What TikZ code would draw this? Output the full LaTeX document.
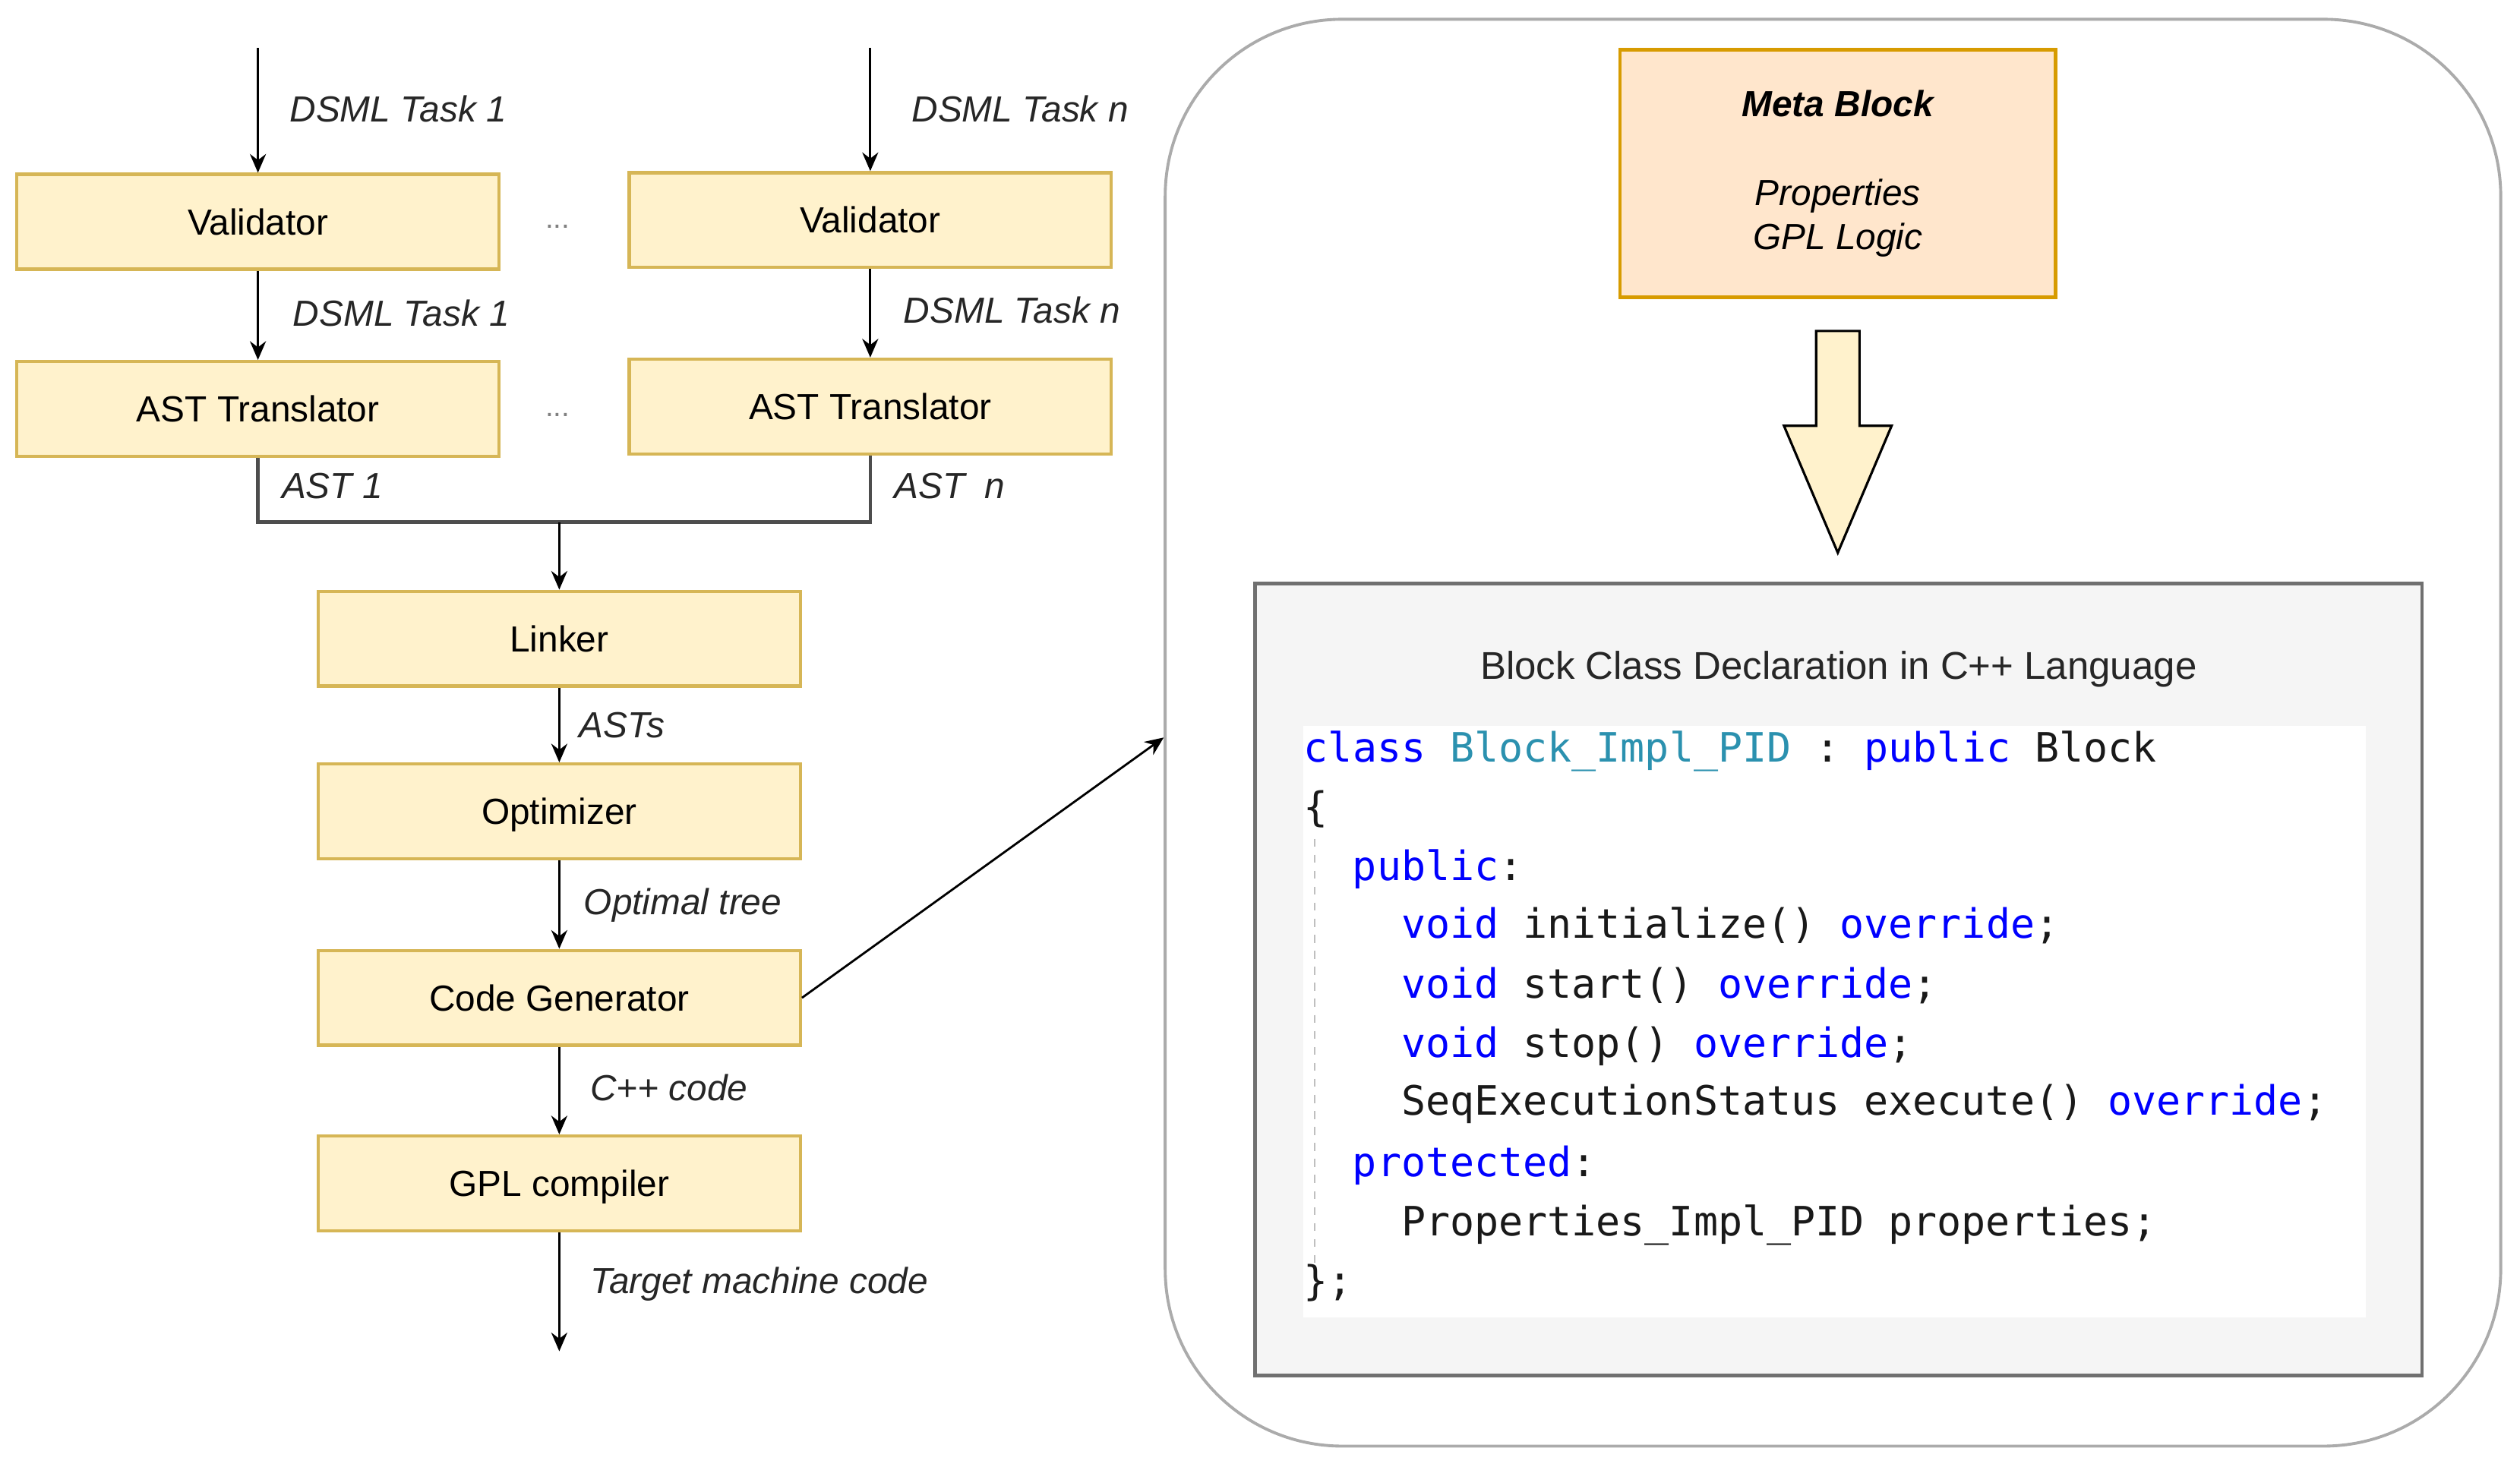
\documentclass[tikz,border=0pt]{standalone}
\usepackage{fontspec}
\setmainfont{Liberation Sans}
\setmonofont{DejaVu Sans Mono}
\usetikzlibrary{arrows.meta}
\definecolor{boxfill}{HTML}{FFF2CC}
\definecolor{boxline}{HTML}{D6B656}
\definecolor{metafill}{HTML}{FFE6CC}
\definecolor{metaline}{HTML}{D79B00}
\definecolor{panelline}{HTML}{ABABAB}
\definecolor{grayfill}{HTML}{F5F5F5}
\definecolor{grayline}{HTML}{707070}
\definecolor{kwblue}{HTML}{0000FF}
\definecolor{clsteal}{HTML}{2B91AF}
\definecolor{labelgray}{HTML}{262626}
\definecolor{joinline}{HTML}{4D4D4D}
\newcommand\kw[1]{\textcolor{kwblue}{#1}}
\newcommand\cls[1]{\textcolor{clsteal}{#1}}
\begin{document}
\begin{tikzpicture}[x=0.2116mm,y=-0.2116mm,
  stagebox/.style={draw=boxline,fill=boxfill,line width=1.2pt,
    minimum width=300*0.2116mm,minimum height=59*0.2116mm,inner sep=0pt,
    font=\fontsize{13.6pt}{16pt}\selectfont,text height=9.7pt,text depth=0pt},
  elabel/.style={anchor=west,inner sep=0pt,text=labelgray,
    font=\fontsize{13.6pt}{16pt}\selectfont\itshape,text height=9.7pt,text depth=0pt},
  codeline/.style={anchor=west,inner sep=0pt,text=black!90,
    font=\fontsize{15.16pt}{18pt}\selectfont\ttfamily,text height=9.7pt,text depth=0pt},
  dots/.style={inner sep=0pt,text=black!50,font=\fontsize{11pt}{13pt}\selectfont},
  flow/.style={-{Stealth[length=7pt,width=6pt]},line width=0.9pt,draw=black},
]
\useasboundingbox (0,0) rectangle (1568,913);

% ---------- right panel ----------
\node[draw=panelline,line width=1.1pt,rounded corners=23.3mm,
  minimum width=831*0.2116mm,minimum height=888*0.2116mm,inner sep=0pt]
  (panel) at (1140.5,456) {};

\node[draw=metaline,fill=metafill,line width=1.2pt,
  minimum width=271*0.2116mm,minimum height=154*0.2116mm,inner sep=0pt,
  align=center,font=\fontsize{13.6pt}{16.6pt}\selectfont\itshape]
  (meta) at (1143.5,108) {\textbf{Meta Block}\\[16.6pt]Properties\\GPL Logic};

\draw[fill=boxfill,line width=0.9pt,draw=black]
  (1130,206) -- (1157,206) -- (1157,265) -- (1177,265) -- (1143.5,344)
  -- (1110,265) -- (1130,265) -- cycle;

\node[draw=grayline,fill=grayfill,line width=1.4pt,
  minimum width=726*0.2116mm,minimum height=493*0.2116mm,inner sep=0pt]
  (codepanel) at (1144,609.5) {};
\node[inner sep=0pt,text=labelgray,font=\fontsize{14.5pt}{17pt}\selectfont,
  text height=10.4pt,text depth=0pt] (title) at (1144,414)
  {Block Class Declaration in C++ Language};
\node[fill=white,minimum width=661*0.2116mm,minimum height=368*0.2116mm,inner sep=0pt]
  (codebox) at (1141.5,636) {};
\draw[black!25,line width=0.7pt,dash pattern=on 3pt off 3pt] (818,522) -- (818,786);

\node[codeline] (c1) at (811,466) {\kw{class} \cls{Block\_Impl\_PID} : \kw{public} Block};
\node[codeline] (c2) at (811,503) {\{};
\node[codeline] (c3) at (841.3,540) {\kw{public}:};
\node[codeline] (c4) at (871.6,576) {\kw{void} initialize() \kw{override};};
\node[codeline] (c5) at (871.6,613) {\kw{void} start() \kw{override};};
\node[codeline] (c6) at (871.6,650) {\kw{void} stop() \kw{override};};
\node[codeline] (c7) at (871.6,686) {SeqExecutionStatus execute() \kw{override};};
\node[codeline] (c8) at (841.3,724) {\kw{protected}:};
\node[codeline] (c9) at (871.6,761) {Properties\_Impl\_PID properties;};
\node[codeline] (c10) at (811,798) {\};};

% ---------- left pipeline ----------
\node[stagebox] (val1) at (160.5,138) {Validator};
\node[stagebox] (valn) at (541.5,137) {Validator};
\node[stagebox] (ast1) at (160.5,254.5) {AST Translator};
\node[stagebox] (astn) at (541.5,253) {AST Translator};
\node[stagebox] (linker) at (348,397.5) {Linker};
\node[stagebox] (opt) at (348,505) {Optimizer};
\node[stagebox] (codegen) at (348,621) {Code Generator};
\node[stagebox] (gpl) at (348,736.5) {GPL compiler};

\node[dots] (d1) at (347,141) {...};
\node[dots] (d2) at (347,258) {...};

\coordinate (in1) at (160.5,30);
\coordinate (inn) at (541.5,30);
\coordinate (join) at (348,325);
\coordinate (out) at (348,841);

\draw[flow] (in1) -- (val1.north);
\draw[flow] (inn) -- (valn.north);
\draw[flow] (val1) -- (ast1);
\draw[flow] (valn) -- (astn);
\draw[draw=joinline,line width=1.3pt] (ast1.south) |- (join) -| (astn.south);
\draw[flow] (join) -- (linker.north);
\draw[flow] (linker) -- (opt);
\draw[flow] (opt) -- (codegen);
\draw[flow] (codegen) -- (gpl);
\draw[flow] (gpl) -- (out);
\draw[-{Stealth[length=7pt,width=6pt]},line width=0.8pt] (codegen.east) -- (panel.west |- 0,459);

\node[elabel] (l1) at (180,68) {DSML Task 1};
\node[elabel] (l2) at (567,68) {DSML Task n};
\node[elabel] (l3) at (182,195) {DSML Task 1};
\node[elabel] (l4) at (562,193) {DSML Task n};
\node[elabel] (l5) at (175,302) {AST 1};
\node[elabel] (l6) at (556,302) {AST~~n};
\node[elabel] (l7) at (360,451) {ASTs};
\node[elabel] (l8) at (363,561) {Optimal tree};
\node[elabel] (l9) at (367,677) {C++ code};
\node[elabel] (l10) at (367,797) {Target machine code};
\end{tikzpicture}
\end{document}
